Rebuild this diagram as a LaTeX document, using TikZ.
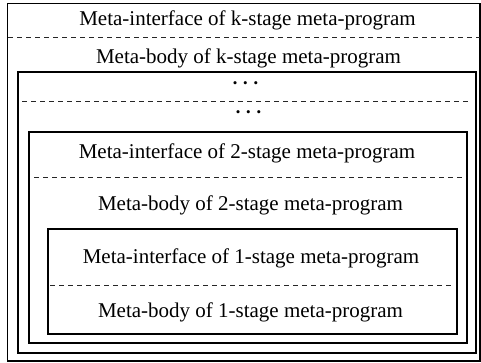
\documentclass[tikz,border=0pt]{standalone}
\usepackage{fontspec}
\setmainfont{Liberation Serif}
\usepackage{tikz}

\begin{document}
\begin{tikzpicture}[x=1pt,y=-1pt,
	stagebox/.style={shape=rectangle, draw=black, line width=1.3pt, inner sep=0pt},
	divider/.style={draw=black!85, line width=0.8pt, dash pattern=on 5pt off 4pt},
	stagetext/.style={font=\fontsize{21}{25}\selectfont, inner sep=0pt, anchor=base},
	stagedots/.style={font=\fontsize{13}{15}\selectfont, inner sep=0pt}]
				\useasboundingbox (0,0) rectangle (481,362);
				\node[stagebox, minimum width=472.5pt, minimum height=357.5pt] (kstage) at (243.75,182.25) {};
				\node[stagebox, minimum width=458pt, minimum height=281pt] (kbody) at (247,212.5) {};
				\node[stagebox, minimum width=438pt, minimum height=211pt] (twostage) at (248,237.5) {};
				\node[stagebox, minimum width=409pt, minimum height=105pt] (onestage) at (252.5,281.5) {};
				\path[divider] (8,37) -- (480,37);
				\path[divider] (22,101) -- (471,101);
				\path[divider] (34,177) -- (466,177);
				\path[divider] (50,285) -- (453,285);
				\node[stagetext] (kif) at (247.5,25) {Meta-interface of k-stage meta-program};
				\node[stagetext] (kbd) at (248.5,63) {Meta-body of k-stage meta-program};
				\node[stagedots] (dotsa) at (245.5,85) {\textbullet\hspace{5.9pt}\textbullet\hspace{5.9pt}\textbullet};
				\node[stagedots] (dotsb) at (248.5,114) {\textbullet\hspace{5.9pt}\textbullet\hspace{5.9pt}\textbullet};
				\node[stagetext] (twoif) at (247,158) {Meta-interface of 2-stage meta-program};
				\node[stagetext] (twobd) at (250.5,210) {Meta-body of 2-stage meta-program};
				\node[stagetext] (oneif) at (251,263) {Meta-interface of 1-stage meta-program};
				\node[stagetext] (onebd) at (250.5,317) {Meta-body of 1-stage meta-program};
			\end{tikzpicture}
\end{document}
